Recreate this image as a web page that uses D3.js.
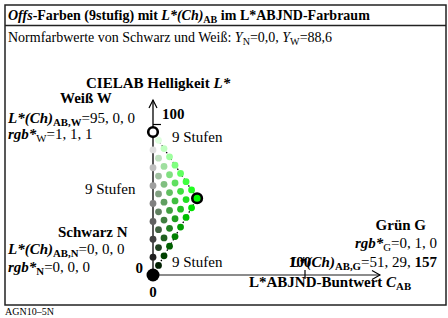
<!DOCTYPE html>
<html>
<head>
<meta charset="utf-8">
<script src="https://cdn.jsdelivr.net/npm/d3@7"></script>
<style>
  body { margin: 0; background: #fff; }
  text { font-family: "Liberation Serif", "Times New Roman", serif; fill: #000; }
</style>
</head>
<body>
<svg id="chart" width="448" height="318"></svg>
<script>
// corner colours of the triangle: black N, white W, green G
var steps = 9;
var cornerNames = ['N', 'W', 'G'];
var cornerLCh = [[0, 0, 0], [95, 0, 0], [51, 29, 157]];
var cornerRgb = [[0, 0, 0], [1, 1, 1], [0, 1, 0]];
var chromaTicks = [0, 100];
var lightTicks = [0, 100];

var svg = d3.select('#chart');

var x = d3.scaleLinear().domain([0, 100]).range([153, 305]);
var y = d3.scaleLinear().domain([0, 100]).range([275, 124.5]);

// rich text: segments [text, flags] ; b bold, i italic, s subscript
function rich(px, py, segs, opts) {
    opts = opts || {};
    var size = opts.size || 15;
    var t = svg.append('text')
        .attr('x', px).attr('y', py)
        .attr('font-size', size)
        .attr('text-anchor', opts.anchor || 'start');
    var inSub = false;
    segs.forEach(function(s) {
        var f = s[1] || '';
        var ts = t.append('tspan').text(s[0]);
        if (f.indexOf('b') >= 0) ts.attr('font-weight', 'bold');
        if (f.indexOf('i') >= 0) ts.attr('font-style', 'italic');
        if (f.indexOf('s') >= 0) {
            ts.attr('font-size', size * 0.72);
            if (!inSub) { ts.attr('dy', 3); inSub = true; }
        } else if (inSub) {
            ts.attr('dy', -3); inSub = false;
        }
    });
    return t;
}

// frame
svg.append('rect').attr('x', 5).attr('y', 5).attr('width', 441).attr('height', 300)
    .attr('fill', 'none').attr('stroke', '#222').attr('stroke-width', 1.5);
svg.append('line').attr('x1', 5).attr('x2', 446).attr('y1', 25.5).attr('y2', 25.5)
    .attr('stroke', '#222').attr('stroke-width', 1.5);

rich(8, 20, [['Offs', 'bi'], ['-Farben (9stufig) mit ', 'b'], ['L*(Ch)', 'bi'], ['AB', 'bs'], [' im L*ABJND-Farbraum', 'b']], {size: 14});
rich(8, 42, [['Normfarbwerte von Schwarz und Weiß: '], ['Y', 'i'], ['N', 's'], ['=0,0, '], ['Y', 'i'], ['W', 's'], ['=88,6']], {size: 14});

// axes
var x0 = x(0), y0 = y(0);
svg.append('line').attr('x1', x0).attr('x2', x0).attr('y1', y0).attr('y2', 100)
    .attr('stroke', '#000').attr('stroke-width', 1.3);
svg.append('path').attr('d', 'M' + (x0 - 4) + ',108L' + x0 + ',100L' + (x0 + 4) + ',108')
    .attr('fill', 'none').attr('stroke', '#000').attr('stroke-width', 1.2);
svg.append('line').attr('x1', x0).attr('x2', 380).attr('y1', y0).attr('y2', y0)
    .attr('stroke', '#666').attr('stroke-width', 1.5);
svg.append('path').attr('d', 'M372,' + (y0 - 4.5) + 'L380,' + y0 + 'L372,' + (y0 + 4.5))
    .attr('fill', 'none').attr('stroke', '#000').attr('stroke-width', 1.1);

// ticks
svg.append('line').attr('x1', x0).attr('x2', x0 + 8).attr('y1', y(lightTicks[1])).attr('y2', y(lightTicks[1]))
    .attr('stroke', '#000').attr('stroke-width', 1.2);
svg.append('line').attr('x1', x(chromaTicks[1])).attr('x2', x(chromaTicks[1])).attr('y1', y0 - 5).attr('y2', y0 + 4)
    .attr('stroke', '#000').attr('stroke-width', 1.2);

rich(162, 119, [['' + lightTicks[1], 'b']]);
rich(300, 267, [['' + chromaTicks[1], 'b']], {anchor: 'middle'});
rich(143, 273, [['' + lightTicks[0], 'b']], {anchor: 'end'});
rich(x0, 297, [['' + chromaTicks[0], 'b']], {anchor: 'middle'});

rich(86, 88, [['CIELAB Helligkeit ', 'b'], ['L*', 'bi']]);
rich(249, 287, [['L*ABJND-Buntwert ', 'b'], ['C', 'bi'], ['AB', 'bs']]);

// triangle grid
var N = cornerLCh[0], W = cornerLCh[1], G = cornerLCh[2];
var pts = [];
for (var b = 0; b < steps; b++) {
    for (var a = 0; a < steps - b; a++) {
        var u = a / (steps - 1), v = b / (steps - 1);
        var L = N[0] + u * (W[0] - N[0]) + v * (G[0] - N[0]);
        var C = N[1] + u * (W[1] - N[1]) + v * (G[1] - N[1]);
        var rgb = [0, 1, 2].map(function(k) {
            return cornerRgb[0][k] + u * (cornerRgb[1][k] - cornerRgb[0][k]) + v * (cornerRgb[2][k] - cornerRgb[0][k]);
        });
        pts.push({a: a, b: b, L: L, C: C, col: d3.rgb(rgb[0] * 255, rgb[1] * 255, rgb[2] * 255).toString()});
    }
}

// dotted edges W-G and N-G
[[W, G], [N, G]].forEach(function(e) {
    svg.append('line')
        .attr('x1', x(e[0][1])).attr('y1', y(e[0][0]))
        .attr('x2', x(e[1][1])).attr('y2', y(e[1][0]))
        .attr('stroke', '#000').attr('stroke-width', 1.3)
        .attr('stroke-dasharray', '1.5,2.5');
});

svg.append('g').selectAll('circle')
    .data(pts.filter(function(p) {
        return !(p.b === 0 && (p.a === 0 || p.a === steps - 1)) && p.b !== steps - 1;
    }))
    .join('circle')
    .attr('cx', function(p) { return x(p.C); })
    .attr('cy', function(p) { return y(p.L); })
    .attr('r', 3.4)
    .attr('fill', function(p) { return p.col; });

// corners
svg.append('circle').attr('cx', x(N[1])).attr('cy', y(N[0])).attr('r', 6.5).attr('fill', '#000');
svg.append('circle').attr('cx', x(W[1])).attr('cy', y(W[0])).attr('r', 4.8)
    .attr('fill', '#fff').attr('stroke', '#000').attr('stroke-width', 2.6);
svg.append('circle').attr('cx', x(G[1])).attr('cy', y(G[0])).attr('r', 4.8)
    .attr('fill', '#00ff00').attr('stroke', '#000').attr('stroke-width', 2.6);

// step labels
rich(172, 142, [[steps + ' Stufen']]);
rich(85, 194, [[steps + ' Stufen']]);
rich(172, 267, [[steps + ' Stufen']]);

// corner descriptions
function fmt(arr) { return arr.join(', '); }
rich(60, 103, [['Weiß ' + cornerNames[1], 'b']]);
rich(8, 123, [['L*(Ch)', 'bi'], ['AB,' + cornerNames[1], 'bs'], ['=' + fmt(cornerLCh[1])]]);
rich(8, 139, [['rgb*', 'bi'], [cornerNames[1], 's'], ['=' + fmt(cornerRgb[1])]]);

rich(58, 237, [['Schwarz ' + cornerNames[0], 'b']]);
rich(8, 254, [['L*(Ch)', 'bi'], ['AB,' + cornerNames[0], 'bs'], ['=' + fmt(cornerLCh[0])]]);
rich(8, 272, [['rgb*', 'bi'], [cornerNames[0], 'bs'], ['=' + fmt(cornerRgb[0])]]);

rich(426, 230, [['Grün ' + cornerNames[2], 'b']], {anchor: 'end'});
rich(437, 248, [['rgb*', 'bi'], [cornerNames[2], 's'], ['=' + fmt(cornerRgb[2])]], {anchor: 'end'});
rich(437, 267, [['L*(Ch)', 'bi'], ['AB,' + cornerNames[2], 'bs'], ['=' + cornerLCh[2][0] + ', ' + cornerLCh[2][1] + ', '], ['' + cornerLCh[2][2], 'b']], {anchor: 'end'});

rich(5, 315, [['AGN10–5N']], {size: 10});
</script>
</body>
</html>
